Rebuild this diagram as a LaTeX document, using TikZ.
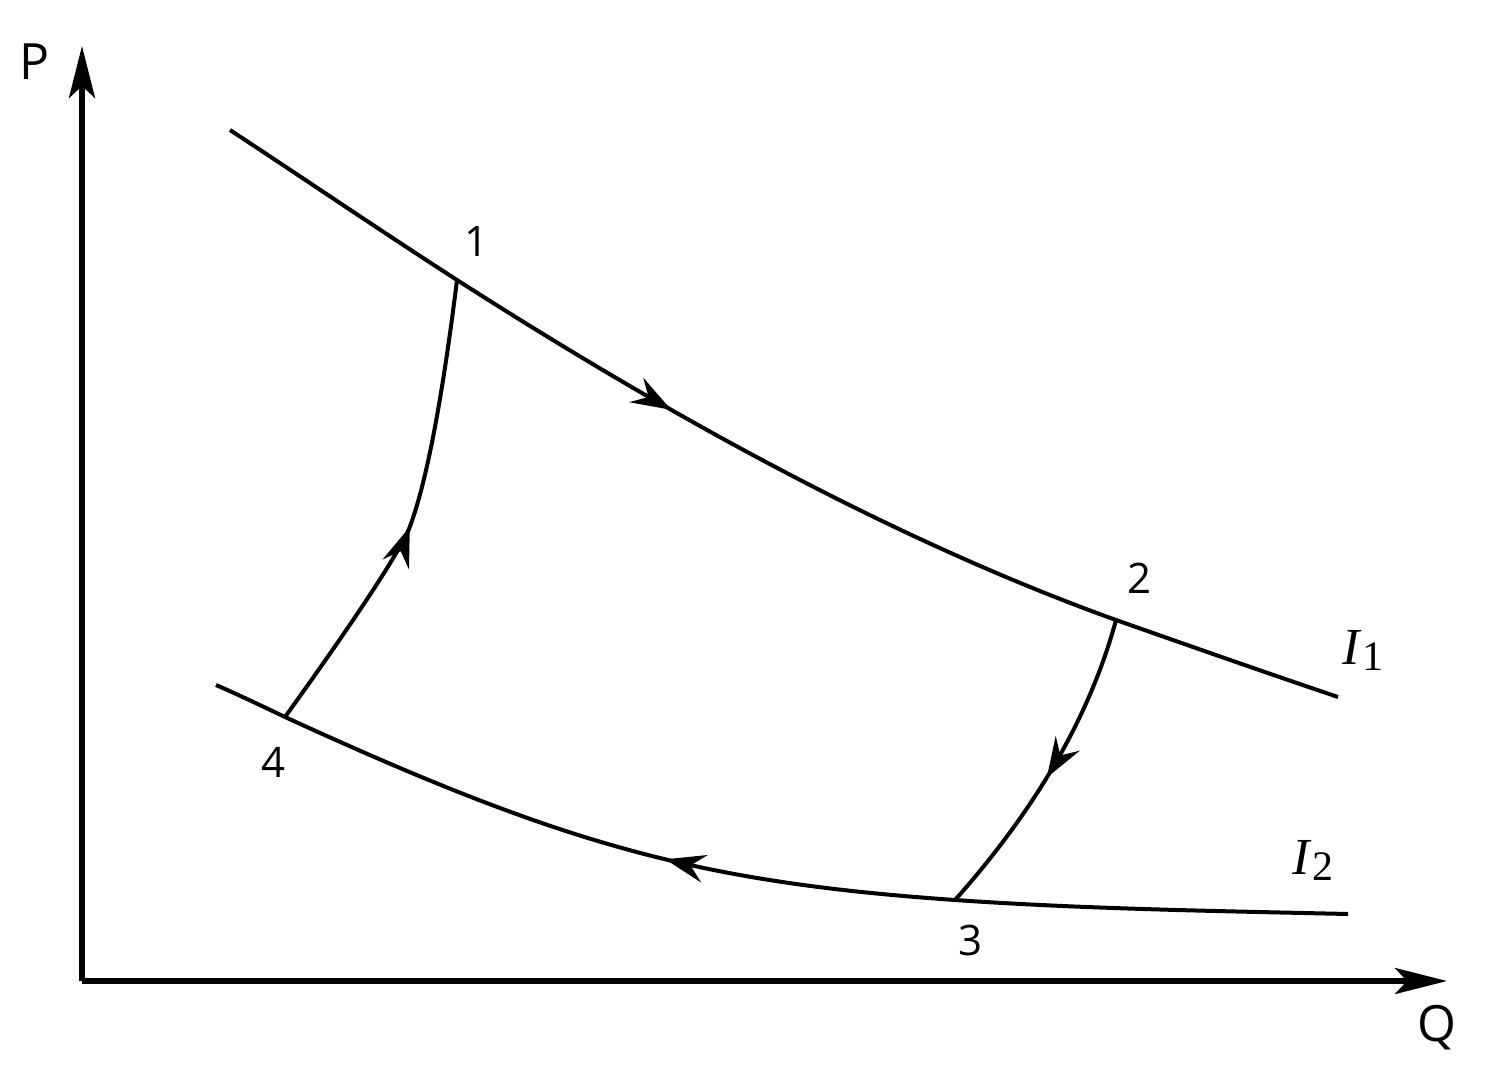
\documentclass[tikz,border=0pt]{standalone}
\usepackage{fontspec}
\setmainfont{Open Sans}
\newfontfamily\tnr{Liberation Serif}
\usetikzlibrary{arrows.meta,decorations.markings}
\tikzset{
  axistip/.tip={Stealth[length=26pt,width=13pt,inset=6pt]},
  midtip/.tip={Stealth[length=20pt,width=14pt,inset=7pt]},
  axisline/.style={line width=2.6pt,-axistip},
  curveline/.style={line width=2pt},
  lbl/.style={font=\fontsize{21}{24}\selectfont,inner sep=0pt},
  axlbl/.style={font=\fontsize{25}{28}\selectfont,inner sep=0pt},
  ilbl/.style={font=\tnr\fontsize{26}{28}\selectfont,inner sep=0pt},
  markat/.style={postaction={decorate},decoration={markings,mark=at position #1 with {\arrow{midtip}}}}
}
\begin{document}
\begin{tikzpicture}[x=0.5pt,y=-0.5pt]
\useasboundingbox (0,0) rectangle (1493,1086);
% axes
\coordinate (o) at (82,981);
\coordinate (ytip) at (82,46);
\coordinate (xtip) at (1447,981);
\draw[axisline] (o) -- (ytip);
\draw[axisline] (o) -- (xtip);
\node[axlbl] (P) at (35,62) {P};
\node[axlbl] (Q) at (1437,1028) {Q};
% key points
\coordinate (p1) at (457,280);
\coordinate (p2) at (1116,620);
\coordinate (p3) at (955,900);
\coordinate (p4) at (285,717);
\coordinate (a41) at (409,529);
\coordinate (i1s) at (230,130);
\coordinate (i1e) at (1338,697);
\coordinate (i2s) at (216,685);
\coordinate (i2e) at (1348,914);
% I1
\draw[curveline,markat=0.418] (i1s) .. controls (306,180) and (381,231) .. (p1)
  .. controls (702,437) and (921,550) .. (p2)
  .. controls (1190,646) and (1264,672) .. (i1e);
% I2 (drawn right to left)
\draw[curveline,markat=0.587] (i2e) .. controls (1218,911) and (1085,909) .. (p3)
  .. controls (698,882) and (564,845) .. (p4)
  .. controls (262,706) and (239,695) .. (i2s);
% 4 -> 1
\draw[curveline,markat=0.475] (p4) .. controls (357,617) and (398,554) .. (a41)
  .. controls (426,485) and (442,401) .. (p1);
% 2 -> 3
\draw[curveline,markat=0.53] (p2) .. controls (1090,716) and (1036,809) .. (p3);
% labels
\node[lbl] (l1) at (476,242) {1};
\node[lbl] (l2) at (1139,578) {2};
\node[lbl] (l3) at (970,940) {3};
\node[lbl] (l4) at (274,762) {4};
\node[ilbl] (I1) at (1363,650) {\textit{I}\raisebox{-0.25ex}{\fontsize{21}{24}\selectfont 1}};
\node[ilbl] (I2) at (1313,860) {\textit{I}\raisebox{-0.25ex}{\fontsize{21}{24}\selectfont 2}};
\end{tikzpicture}
\end{document}
